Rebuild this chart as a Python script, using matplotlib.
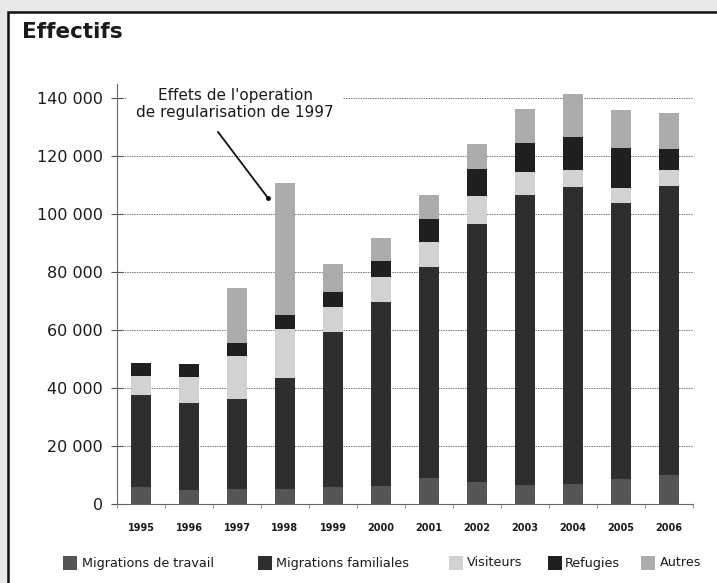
import matplotlib
matplotlib.use("Agg")
import matplotlib.pyplot as plt
from matplotlib.patches import Rectangle
import numpy as np

years = ["1995", "1996", "1997", "1998", "1999", "2000", "2001", "2002", "2003", "2004", "2005", "2006"]
travail = [6000, 4800, 5200, 5200, 6000, 6200, 8800, 7700, 6600, 6900, 8600, 10000]
familiales = [31500, 30100, 30900, 38100, 53400, 63600, 72800, 88900, 100000, 102300, 95300, 99700]
visiteurs = [6600, 9000, 15000, 16900, 8600, 8600, 8900, 9700, 7800, 6000, 5000, 5500]
refugies = [4600, 4400, 4300, 4900, 5200, 5400, 7700, 9100, 10000, 11500, 14000, 7100]
autres = [0, 0, 19000, 45500, 9400, 7800, 8400, 8700, 11800, 14700, 13000, 12400]

series_names = ["Migrations de travail", "Migrations familiales", "Visiteurs", "Refugies", "Autres"]
series_vals = [travail, familiales, visiteurs, refugies, autres]
colors = ["#555555", "#2e2e2e", "#d2d2d2", "#1f1f1f", "#ababab"]

yticks = [0, 20000, 40000, 60000, 80000, 100000, 120000, 140000]
ytick_labels = ["0", "20 000", "40 000", "60 000", "80 000", "100 000", "120 000", "140 000"]

annot_text = "Effets de l'operation\nde regularisation de 1997"

W, H = 717, 583
fig = plt.figure(figsize=(W / 100, H / 100), dpi=100)
fig.patch.set_facecolor("#e8e8e8")

# frame
fig.patches.append(Rectangle((8 / W, -0.05), 1.1, 1 - 12 / H + 0.05, transform=fig.transFigure,
                             facecolor="white", edgecolor="#111111", linewidth=1.8, zorder=-10))

fig.text(22 / W, 1 - 32 / H, "Effectifs", fontsize=15.5, fontweight="bold", color="#1a1a1a",
         va="center", ha="left")

ax = fig.add_axes([117 / W, 1 - 504 / H, (693 - 117) / W, (504 - 83.5) / H])
ax.set_facecolor("none")
ax.set_zorder(2)

x = np.arange(len(years))
bottom = np.zeros(len(years))
for name, vals, c in zip(series_names, series_vals, colors):
    ax.bar(x, vals, width=0.4, bottom=bottom, color=c, label=name, zorder=3)
    bottom += np.array(vals)

ax.set_xlim(-0.5, len(years) - 0.5)
ax.set_ylim(0, 145000)
ax.set_yticks(yticks)
ax.set_yticklabels(ytick_labels, fontsize=11.5, color="#1a1a1a")
ax.set_xticks(x)
ax.set_xticklabels(years, fontsize=7, fontweight="bold", color="#1a1a1a")
ax.tick_params(axis="x", length=0, pad=14)
ax.set_xticks(np.arange(-0.5, len(years), 1), minor=True)
ax.tick_params(axis="x", which="minor", length=3, color="#888888", width=0.6)
ax.tick_params(axis="y", direction="inout", length=8, color="#555555", width=0.8, pad=6)
ax.yaxis.grid(True, linestyle=(0, (1.5, 1.0)), color="#777777", linewidth=0.7, zorder=1)
for s in ["top", "right"]:
    ax.spines[s].set_visible(False)
for s in ["left", "bottom"]:
    ax.spines[s].set_color("#666666")
    ax.spines[s].set_linewidth(0.8)

ax.annotate("", xy=(2.646, 105500), xytext=(1.604, 128300),
            arrowprops=dict(arrowstyle="-", color="#111111", lw=1.3, shrinkA=0, shrinkB=0), zorder=6)
ax.plot([2.646], [105500], marker="o", markersize=2.5, color="#111111", zorder=6)
ax.text(1.96, 137900, annot_text, ha="center", va="center", fontsize=11, color="#1a1a1a",
        linespacing=1.1, zorder=5,
        bbox=dict(boxstyle="square,pad=0.6", facecolor="white", edgecolor="none"))

# legend (manual placement)
leg_y = 563
patch_x = [63, 258, 449, 548, 641]
text_x = [82, 276, 467, 565, 660]
for px, tx, name, c in zip(patch_x, text_x, series_names, colors):
    fig.patches.append(Rectangle((px / W, 1 - (leg_y + 7) / H), 14 / W, 14 / H,
                                 transform=fig.transFigure, facecolor=c, edgecolor="none", zorder=3))
    fig.text(tx / W, 1 - leg_y / H, name, fontsize=9.2, color="#1a1a1a", va="center", ha="left")

fig.savefig("out.png", dpi=100, facecolor=fig.get_facecolor())
